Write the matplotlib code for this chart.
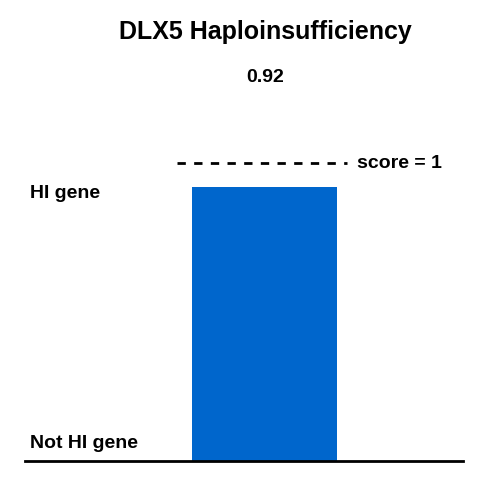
import matplotlib
matplotlib.use("Agg")
import matplotlib.pyplot as plt

gene = "DLX5"
score = 0.92
ref_score = 1
bar_color = "#0066cc"

plt.rcParams['font.family'] = ['Liberation Sans', 'DejaVu Sans']

fig = plt.figure(figsize=(4.8, 4.8), dpi=100)
ax = fig.add_axes([0, 0, 1, 1])
ax.set_xlim(0, 480)
# pixel row p -> score (461 - p) / 298
ax.set_ylim((461 - 480) / 298, 461 / 298)
ax.axis("off")

ax.bar(264.5, score, width=145, color=bar_color, bottom=0)
ax.plot([25, 463], [0, 0], color="black", lw=2)
ax.plot([177, 347], [ref_score, ref_score], color="black", lw=2, ls=(0, (3, 3)))
ax.text(357, ref_score, "score = 1", fontsize=14, fontweight="bold", va="center")

ax.text(265, (461 - 32) / 298, f"{gene} Haploinsufficiency", fontsize=18,
        fontweight="bold", ha="center", va="center")
ax.text(265, (461 - 77) / 298, f"{score:.2f}", fontsize=14,
        fontweight="bold", ha="center", va="center")
ax.text(30, (461 - 193) / 298, "HI gene", fontsize=14, fontweight="bold", va="center")
ax.text(30, (461 - 443) / 298, "Not HI gene", fontsize=14, fontweight="bold", va="center")

fig.savefig("out.png", dpi=100)
